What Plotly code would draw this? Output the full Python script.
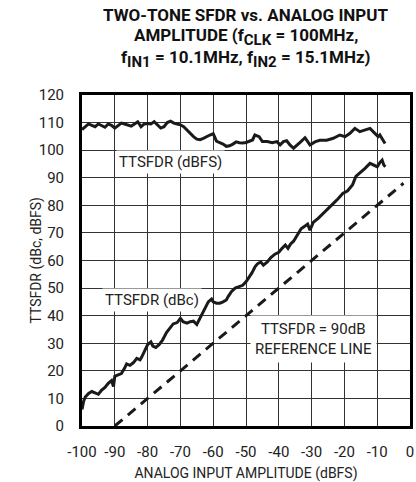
import plotly.graph_objects as go

# ---- data ----
dbfs_x = [-100, -99, -98, -97, -96, -95, -94, -93, -92, -91, -90, -89, -88, -87, -86, -85, -84, -83, -82, -81,
          -80, -79, -78, -77, -76, -75, -74, -73, -72, -71, -70, -69, -68, -67, -66, -65, -64, -63, -62, -61,
          -60, -59, -58, -57, -56, -55, -54, -53, -52, -51, -50,
          -49, -48, -47.3, -46, -45, -43.5, -42, -40.6, -39.6, -38.6, -37.6, -36.6, -35.5, -34.5, -33.5, -32,
          -30.5, -29, -27.5, -25.4, -23.4, -21.4, -19.8, -18.3, -16.8, -15.3, -13.7, -12.2, -10.7, -9.7, -9.2,
          -8.4, -7.6]
dbfs_y = [107.5, 108.5, 109.5, 109, 108.5, 109.5, 109, 108.3, 109.5, 109, 108, 109, 109.8, 109.5, 109, 108.7,
          109.5, 110.3, 108.5, 109.5, 109.7, 109.5, 110.3, 109, 108, 108.5, 110, 110.5, 109.8, 109.5,
          109.2, 108.5, 107.3, 106, 104.9, 104, 103.8, 104.3, 105, 105.5, 106, 103.3, 102.7, 102.2, 101.4,
          101.6, 102.2, 103, 102.7, 102.6, 102.8,
          103.2, 103.7, 105.5, 104.9, 103.1, 103.1, 102.7, 103.1, 101.9, 103.1, 103.4, 101.9, 100.7, 101.9,
          102.8, 104.5, 101.9, 103, 103.6, 103.6, 104.3, 105.5, 104.9, 106.1, 107.9, 106.7, 107.3, 107.9,
          106.1, 104.9, 105.5, 104, 102.4]

dbc_x = [-100, -99.5, -99, -98, -97, -96, -95, -94, -93, -92, -91, -90.4, -90, -89, -88, -87, -86.4, -85.4,
         -84.3, -83.3, -82.3, -81.8, -80.8, -80, -79, -78.4, -77.5, -76.5, -75.5, -74.2, -73.2, -72.2, -71,
         -70, -69.2, -68, -67, -66, -65, -64.5, -63.5, -62.5, -61.5, -60.5, -60, -59, -58, -57, -56, -55.4,
         -54.4, -53.3, -52.3, -51, -50, -49.3, -48.2, -47.2, -46.5, -45.5, -44.7, -43.5, -42.5, -41.2, -40,
         -39, -38, -37.2, -36.4, -35.5, -34.5, -33.2, -32, -31.2, -30.5, -29.5, -28, -26.5, -25, -23.5, -22,
         -20.5, -19, -17.5, -16.5, -15.3, -13.7, -12.2, -11, -10, -9.2, -8.5, -8, -7.5]
dbc_y = [6, 9, 10.5, 11.8, 12.5, 12, 11.5, 13, 14, 15.5, 16.5, 14.3, 18, 18.5, 19, 21, 22.5, 22,
         23, 24.5, 24, 25, 27.5, 29.5, 30.5, 29, 28.5, 29.5, 31, 34, 35.5, 37, 37.5,
         39, 37.8, 37.3, 37.8, 38, 36.8, 38, 40.5, 43, 45, 46, 45, 44.5, 44.5, 45, 45.7, 47,
         48.8, 50, 50.5, 51, 52.3, 53.5, 55.5, 57.8, 58.8, 59.5, 58.3, 59.5, 61, 62.3, 63,
         64.4, 65.6, 64.4, 66, 67, 69, 71.5, 72.5, 73.2, 71, 73.8, 75.3, 77, 78.5, 80.5, 82.3,
         84.3, 85.3, 87.5, 90.5, 91.6, 93.4, 95.2, 94.6, 94, 95.5, 96.4, 94.6, 94]

ref_x = [-90, -2]
ref_y = [0, 88]

x_ticks = [-100, -90, -80, -70, -60, -50, -40, -30, -20, -10, 0]
x_tick_text = ["-100", "-90", "-80", "-70", "-60", "-50", "-40", "-30", "-20", "-10", "0"]
y_ticks = [0, 10, 20, 30, 40, 50, 60, 70, 80, 90, 100, 110, 120]

FONT = "Roboto, Liberation Sans, sans-serif"


def nfont(size, weight="normal", color="#222"):
    return dict(family=FONT, size=size, color=color, weight=weight)


def sub(t):
    return '<sub><span style="font-size:15px">' + t + '</span></sub>'


TITLE_LINES = [
    "<b>TWO-TONE SFDR vs. ANALOG INPUT</b>",
    "<b>AMPLITUDE (f" + sub("CLK") + " = 100MHz,</b>",
    "<b>f" + sub("IN1") + " = 10.1MHz, f" + sub("IN2") + " = 15.1MHz)</b>",
]
TITLE_Y = [1.242, 1.174, 1.108]

fig = go.Figure()
fig.add_trace(go.Scatter(x=dbfs_x, y=dbfs_y, mode="lines",
                         line=dict(color="#1a1a1a", width=3), showlegend=False))
fig.add_trace(go.Scatter(x=dbc_x, y=dbc_y, mode="lines",
                         line=dict(color="#1a1a1a", width=3), showlegend=False))
fig.add_trace(go.Scatter(x=ref_x, y=ref_y, mode="lines",
                         line=dict(color="#1a1a1a", width=3, dash="10px,7px"), showlegend=False))

fig.add_annotation(x=-72.9, y=95.7, text="TTSFDR (dBFS)", showarrow=False,
                   font=nfont(15), bgcolor="white", borderpad=2)
fig.add_annotation(x=-78.7, y=45.6, text="TTSFDR (dBc)", showarrow=False,
                   font=nfont(15), bgcolor="white", borderpad=2)
fig.add_annotation(x=-29.4, y=31.7, text="TTSFDR = 90dB<br>REFERENCE LINE", showarrow=False,
                   font=nfont(15), bgcolor="white", borderpad=4)

for line, ty in zip(TITLE_LINES, TITLE_Y):
    fig.add_annotation(xref="paper", yref="paper", x=0.5, y=ty, xanchor="center", yanchor="middle",
                       text=line, showarrow=False, font=nfont(17, weight="bold", color="#111"))

# y-axis title as a rotated annotation
fig.add_annotation(xref="paper", yref="paper", x=-0.140, y=0.5, xanchor="center", yanchor="middle",
                   text="TTSFDR (dBc, dBFS)", textangle=-90, showarrow=False, font=nfont(14))

fig.update_layout(
    width=416, height=482,
    margin=dict(l=82, r=6, t=95, b=56),
    paper_bgcolor="white", plot_bgcolor="white",
    xaxis=dict(
        range=[-100, 0], tickvals=x_ticks, ticktext=x_tick_text,
        showgrid=True, gridcolor="#333", gridwidth=1,
        showline=True, linecolor="black", linewidth=3, mirror=True,
        ticks="", zeroline=False, ticklabelstandoff=10, automargin=False,
        ticklabeloverflow="allow",
        tickfont=nfont(15),
        title=dict(text="ANALOG INPUT AMPLITUDE (dBFS)", standoff=17, font=nfont(14)),
    ),
    yaxis=dict(
        range=[0, 120], tickvals=y_ticks,
        showgrid=True, gridcolor="#333", gridwidth=1,
        showline=True, linecolor="black", linewidth=3, mirror=True,
        ticks="", zeroline=False, ticklabelstandoff=12, automargin=False,
        tickfont=nfont(15),
    ),
)

fig.write_html("out.html", config={"displayModeBar": False},
               post_script="document.body.style.margin='0';document.body.style.overflow='hidden';")
